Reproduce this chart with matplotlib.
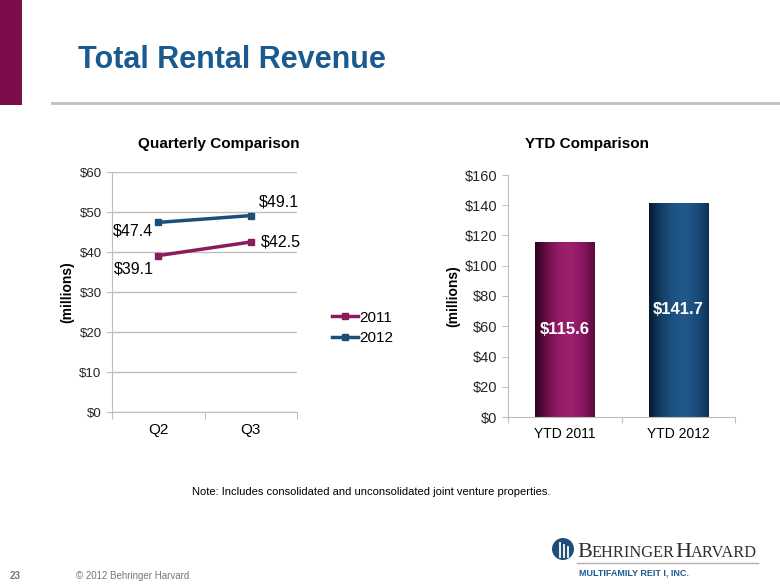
#!/usr/bin/env python3
"""Total Rental Revenue slide: quarterly line comparison + YTD bar comparison."""

import numpy as np
import matplotlib
matplotlib.use("Agg")
import matplotlib.pyplot as plt
from matplotlib.colors import LinearSegmentedColormap
from matplotlib.patches import Rectangle, Ellipse
from matplotlib.ticker import FuncFormatter

plt.rcParams['font.family'] = ['Liberation Sans', 'DejaVu Sans']

# Data
quarters = ['Q2', 'Q3']
rev_2011 = [39.1, 42.5]
rev_2012 = [47.4, 49.1]
series_names = ['2011', '2012']

ytd_labels = ['YTD 2011', 'YTD 2012']
ytd_values = [115.6, 141.7]

C2011 = '#8E1A5E'
C2012 = '#1C4E7A'
TITLE_BLUE = '#1B5A8E'
GRID = '#BFBFBF'
TICK_TXT = '#262626'

W, H = 780, 585
fig = plt.figure(figsize=(W / 100, H / 100), dpi=100)


def fx(px):
    return px / W


def fy(py):
    return 1 - py / H


# Slide decorations
fig.patches.append(Rectangle((0, fy(105)), fx(22), 105 / H, transform=fig.transFigure,
                             facecolor='#7B0D4B', edgecolor='none'))
fig.add_artist(plt.Line2D([fx(52), 1], [fy(103), fy(103)], color='#C0C0C0', lw=2))
fig.text(fx(78), fy(60), 'Total Rental Revenue', fontsize=22, fontweight='bold',
         color=TITLE_BLUE, va='center', ha='left')

dollar = FuncFormatter(lambda v, p: f'${v:.0f}')

# ---- Quarterly comparison (lines) ----
ax1 = fig.add_axes([fx(112), fy(412), fx(185), 240 / H])
xpos = np.arange(len(quarters)) + 0.5
l1, = ax1.plot(xpos, rev_2011, color=C2011, lw=2.5, marker='s', ms=4.5, label=series_names[0])
l2, = ax1.plot(xpos, rev_2012, color=C2012, lw=2.5, marker='s', ms=4.5, label=series_names[1])
ax1.set_xlim(0, 2)
ax1.set_ylim(0, 60)
ax1.set_yticks(np.arange(0, 61, 10))
ax1.yaxis.set_major_formatter(dollar)
ax1.set_xticks([0, 1, 2])
ax1.set_xticklabels([])
ax1.set_xticks(xpos, minor=True)
ax1.set_xticklabels(quarters, minor=True, fontsize=11)
ax1.tick_params(axis='x', which='minor', length=0, pad=8)
ax1.tick_params(axis='x', which='major', length=5, color=GRID)
ax1.tick_params(axis='y', length=4, color=GRID, labelsize=9.5, labelcolor=TICK_TXT)
ax1.grid(axis='y', color=GRID, lw=1)
ax1.set_axisbelow(True)
for s in ['top', 'right']:
    ax1.spines[s].set_visible(False)
for s in ['left', 'bottom']:
    ax1.spines[s].set_color(GRID)
ax1.set_ylabel('(millions)', fontsize=10, fontweight='bold', labelpad=4)
fig.text(fx(219), fy(144), 'Quarterly Comparison', fontsize=11, fontweight='bold',
         ha='center', va='center')

# data labels
ax1.annotate(f'${rev_2012[0]}', (xpos[0], rev_2012[0]), xytext=(-4, -6),
             textcoords='offset points', ha='right', va='center', fontsize=11.5)
ax1.annotate(f'${rev_2011[0]}', (xpos[0], rev_2011[0]), xytext=(-3, -10),
             textcoords='offset points', ha='right', va='center', fontsize=11.5)
ax1.annotate(f'${rev_2012[1]}', (xpos[1], rev_2012[1]), xytext=(6, 10),
             textcoords='offset points', ha='left', va='center', fontsize=11.5)
ax1.annotate(f'${rev_2011[1]}', (xpos[1], rev_2011[1]), xytext=(7, 0),
             textcoords='offset points', ha='left', va='center', fontsize=11.5)

fig.legend(handles=[l1, l2], loc='center left', bbox_to_anchor=(fx(318), fy(328)),
           frameon=False, fontsize=11, handlelength=1.7, handletextpad=0.1,
           labelspacing=0.45, markerscale=0.9)

# ---- YTD comparison (bars) ----
ax2 = fig.add_axes([fx(508), fy(417), fx(227), 242 / H])
bpos = np.arange(len(ytd_labels)) + 0.5
bars = ax2.bar(bpos, ytd_values, width=0.52, color='none', edgecolor='none')
ax2.set_xlim(0, 2)
ax2.set_ylim(0, 160)
ax2.set_yticks(np.arange(0, 161, 20))
ax2.yaxis.set_major_formatter(dollar)
ax2.set_xticks([0, 1, 2])
ax2.set_xticklabels([])
ax2.set_xticks(bpos, minor=True)
ax2.set_xticklabels(ytd_labels, minor=True, fontsize=10)
ax2.tick_params(axis='x', which='minor', length=0, pad=7)
ax2.tick_params(axis='x', which='major', length=4, color=GRID)
ax2.tick_params(axis='y', length=4, color=GRID, labelsize=10.5, labelcolor=TICK_TXT)
for s in ['top', 'right']:
    ax2.spines[s].set_visible(False)
for s in ['left', 'bottom']:
    ax2.spines[s].set_color(GRID)
ax2.set_ylabel('(millions)', fontsize=10, fontweight='bold', labelpad=3)
fig.text(fx(587), fy(144), 'YTD Comparison', fontsize=11, fontweight='bold',
         ha='center', va='center')

grads = [
    LinearSegmentedColormap.from_list('g11', ['#2A0320', '#6E0F49', '#951C66', '#9E2070', '#8A165F', '#5A0A3C']),
    LinearSegmentedColormap.from_list('g12', ['#061A30', '#123E64', '#1D5282', '#22598C', '#1A4C7A', '#0E3254']),
]
grad = np.linspace(0, 1, 256).reshape(1, -1)
for bar, cmap, val in zip(bars, grads, ytd_values):
    x0, w, h = bar.get_x(), bar.get_width(), bar.get_height()
    im = ax2.imshow(grad, cmap=cmap, aspect='auto', extent=(x0, x0 + w, 0, h), zorder=2)
    im.set_clip_path(bar)
    ax2.text(x0 + w / 2, h / 2, f'${val}', ha='center', va='center', color='white',
             fontsize=12, fontweight='bold', zorder=3)
ax2.set_xlim(0, 2)
ax2.set_ylim(0, 160)

# Note and footer
fig.text(fx(192), fy(492), 'Note: Includes consolidated and unconsolidated joint venture properties.',
         fontsize=8, va='center', ha='left')
fig.text(fx(10), fy(576), '23', fontsize=7, color='#777777', fontweight='bold', va='center')
fig.text(fx(76), fy(576), '\u00a9 2012 Behringer Harvard', fontsize=7, color='#777777', va='center')

# logo: round icon + small-caps wordmark
fig.patches.append(Ellipse((fx(563), fy(549)), 22 / W, 22 / H, transform=fig.transFigure,
                           facecolor='#1F4E7A', edgecolor='none'))
for dx, top in [(-3, 543), (1, 545), (5, 547)]:
    fig.add_artist(plt.Line2D([fx(563 + dx), fx(563 + dx)], [fy(top), fy(557)],
                              color='white', lw=1.3))
renderer = fig.canvas.get_renderer()
xcur = 577
for chunk, size in [('B', 16), ('EHRINGER', 11.8), ('H', 16), ('ARVARD', 11.8)]:
    t = fig.text(fx(xcur), fy(557), chunk, fontsize=size, color='#2E2E2E',
                 family='Liberation Serif', va='baseline', ha='left')
    xcur += t.get_window_extent(renderer).width
fig.add_artist(plt.Line2D([fx(577), fx(758)], [fy(563), fy(563)], color='#B0B0B0', lw=1))
fig.text(fx(579), fy(573), 'MULTIFAMILY REIT I, INC.', fontsize=6.5, color='#1F5A8E',
         fontweight='bold', va='center', ha='left')

fig.savefig('out.png', dpi=100)
